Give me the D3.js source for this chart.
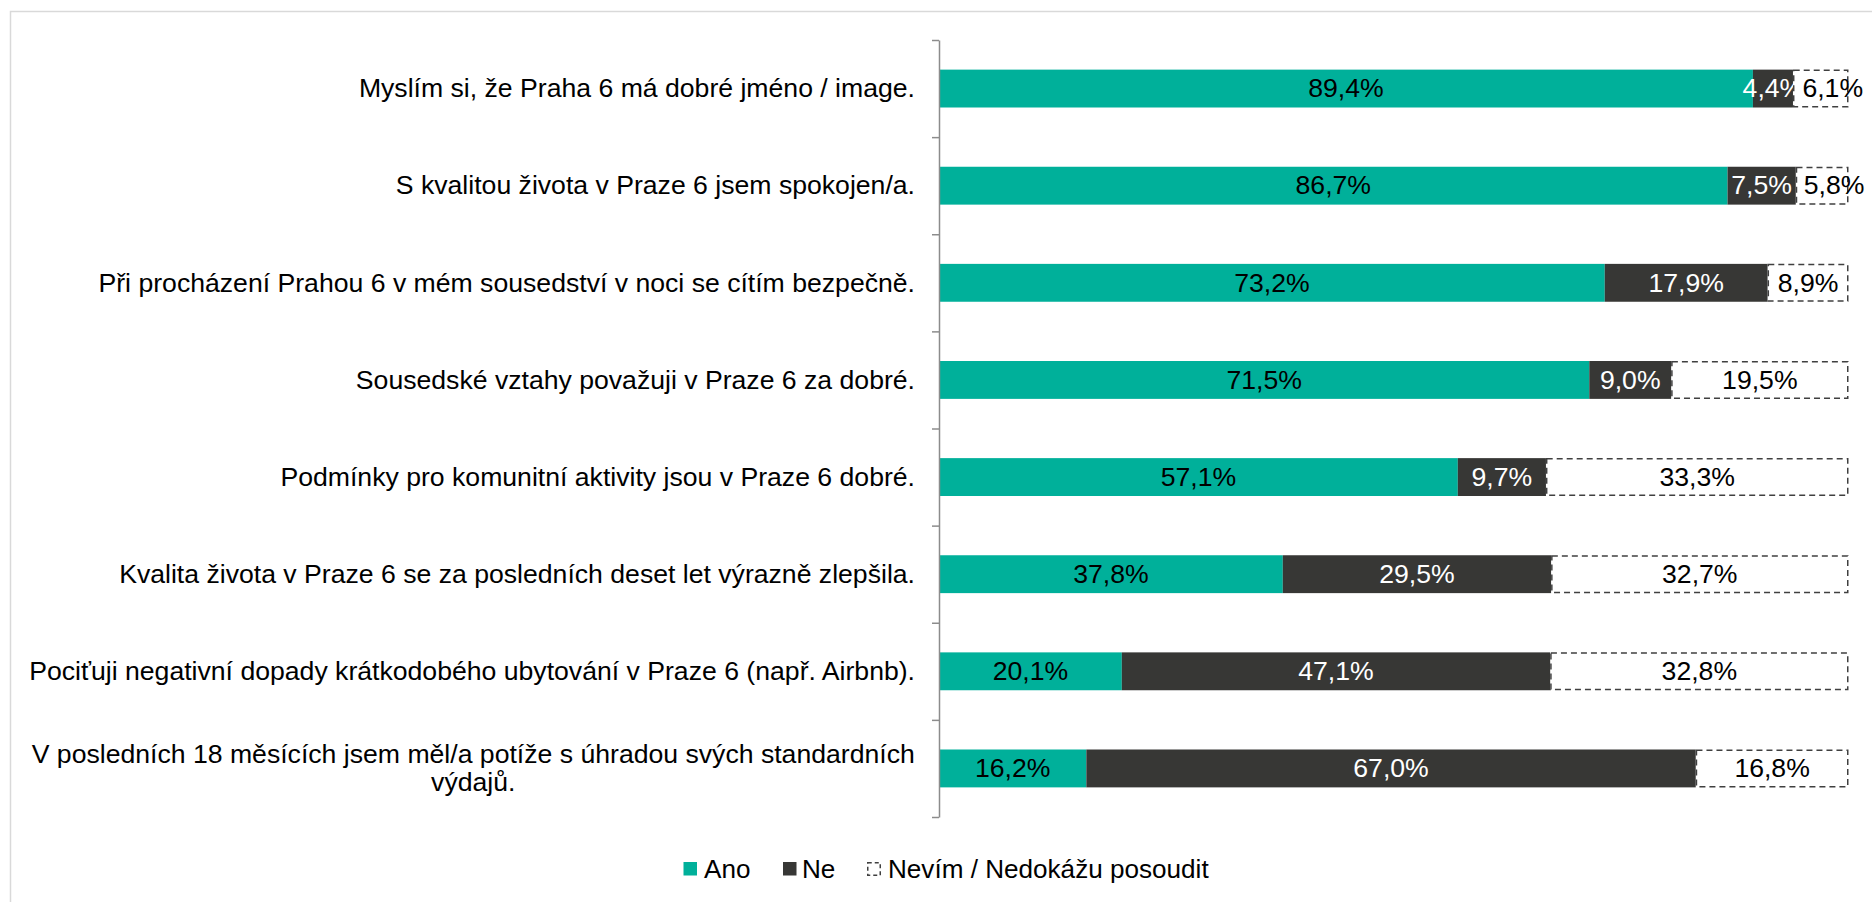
<!DOCTYPE html>
<html><head><meta charset="utf-8">
<script src="https://cdn.jsdelivr.net/npm/d3@7"></script>
<style>
html,body{margin:0;padding:0;background:#fff;}
svg{display:block;}
text{font-family:"Liberation Sans",Arial,sans-serif;}
</style></head>
<body>
<svg id="chart" width="1872" height="902"></svg>
<script>
const categories = [
  "Myslím si, že Praha 6 má dobré jméno / image.",
  "S kvalitou života v Praze 6 jsem spokojen/a.",
  "Při procházení Prahou 6 v mém sousedství v noci se cítím bezpečně.",
  "Sousedské vztahy považuji v Praze 6 za dobré.",
  "Podmínky pro komunitní aktivity jsou v Praze 6 dobré.",
  "Kvalita života v Praze 6 se za posledních deset let výrazně zlepšila.",
  "Pociťuji negativní dopady krátkodobého ubytování v Praze 6 (např. Airbnb).",
  "V posledních 18 měsících jsem měl/a potíže s úhradou svých standardních výdajů."
];
const categoryLines = [
  ["Myslím si, že Praha 6 má dobré jméno / image."],
  ["S kvalitou života v Praze 6 jsem spokojen/a."],
  ["Při procházení Prahou 6 v mém sousedství v noci se cítím bezpečně."],
  ["Sousedské vztahy považuji v Praze 6 za dobré."],
  ["Podmínky pro komunitní aktivity jsou v Praze 6 dobré."],
  ["Kvalita života v Praze 6 se za posledních deset let výrazně zlepšila."],
  ["Pociťuji negativní dopady krátkodobého ubytování v Praze 6 (např. Airbnb)."],
  ["V posledních 18 měsících jsem měl/a potíže s úhradou svých standardních", "výdajů."]
];
const seriesNames = ["Ano", "Ne", "Nevím / Nedokážu posoudit"];
const ano   = [89.4, 86.7, 73.2, 71.5, 57.1, 37.8, 20.1, 16.2];
const ne    = [4.4, 7.5, 17.9, 9.0, 9.7, 29.5, 47.1, 67.0];
const nevim = [6.1, 5.8, 8.9, 19.5, 33.3, 32.7, 32.8, 16.8];

const FS = 25, SX = 1.065, LSX = 1.045;
const teal = "#00b09a", dark = "#373735";

const rows = categories.map((c, i) => ({cat: c, "Ano": ano[i], "Ne": ne[i], "Nevím / Nedokážu posoudit": nevim[i]}));
const stack = d3.stack().keys(seriesNames).offset(d3.stackOffsetExpand)(rows);

const svg = d3.select("#chart");
svg.append("rect").attr("x", 10.5).attr("y", 11.5).attr("width", 2000).attr("height", 1000)
  .attr("fill", "none").attr("stroke", "#d9d9d9").attr("stroke-width", 1.5);

const x = d3.scaleLinear().domain([0, 1]).range([939, 1848.5]);
const y = d3.scaleBand().domain(categories).range([40, 817]).paddingInner(0.61).paddingOuter(0.305);
const yEdge = d3.scaleLinear().domain([0, categories.length]).range([40, 817]);

const loc = d3.formatLocale({decimal: ",", thousands: " ", grouping: [3], currency: ["", ""]});
const fmt = loc.format(".1f");

const fills = [teal, dark, "#ffffff"];
const labelCol = ["#000", "#fff", "#000"];

stack.forEach((s, si) => {
  const g = svg.append("g");
  s.forEach((d, i) => {
    const x0 = x(d[0]), x1 = x(d[1]);
    const r = g.append("rect")
      .attr("x", x0).attr("y", y(categories[i]))
      .attr("width", x1 - x0).attr("height", y.bandwidth())
      .attr("fill", fills[si]);
    if (si === 2) {
      r.attr("x", x0 + 0.75).attr("y", y(categories[i]) + 0.75)
       .attr("width", x1 - x0 - 1.5).attr("height", y.bandwidth() - 1.5)
       .attr("stroke", "#404040").attr("stroke-width", 1.5).attr("stroke-dasharray", "6,4");
    }
  });
  s.forEach((d, i) => {
    const v = [ano, ne, nevim][si][i];
    const segW = x(d[1]) - x(d[0]);
    const cx = (x(d[0]) + x(d[1])) / 2, cy = y(categories[i]) + y.bandwidth() / 2;
    const t = g.append("text")
      .attr("text-anchor", "middle").attr("dy", "0.35em")
      .attr("font-size", FS).attr("fill", labelCol[si])
      .text(fmt(v) + "%");
    const tw = t.node().getComputedTextLength() * SX;
    const shift = (si === 2 && tw > segW) ? 12 : 0;
    t.attr("transform", `translate(${cx + shift},${cy}) scale(${SX},1)`);
  });
});

// axis
const axis = d3.axisLeft(yEdge).tickValues(d3.range(categories.length + 1)).tickFormat("").tickSize(7).tickSizeOuter(0);
const ag = svg.append("g").attr("transform", "translate(939,0)").call(axis);
ag.selectAll("path,line").attr("stroke", "#8c8c8c").attr("stroke-width", 1.5);

// category labels
const LX = 915;
categoryLines.forEach((lines, i) => {
  const cy = y(categories[i]) + y.bandwidth() / 2;
  const g = svg.append("g");
  const lh = 28.5;
  const t0 = g.append("text").attr("font-size", FS).text(lines[0]);
  const w0 = t0.node().getComputedTextLength() * SX;
  t0.remove();
  const cxBlock = LX - w0 / 2;
  lines.forEach((ln, k) => {
    const ly = cy + (k - (lines.length - 1) / 2) * lh;
    g.append("text")
      .attr("transform", `translate(${lines.length > 1 ? cxBlock : LX},${ly}) scale(${SX},1)`)
      .attr("text-anchor", lines.length > 1 ? "middle" : "end")
      .attr("dy", "0.35em").attr("font-size", FS).attr("fill", "#000")
      .text(ln);
  });
});

// legend
const legend = [
  {name: seriesNames[0], sx: 683.5, tx: 704},
  {name: seriesNames[1], sx: 783, tx: 802},
  {name: seriesNames[2], sx: 867, tx: 888}
];
const ly = 869;
legend.forEach((l, i) => {
  if (i < 2) {
    svg.append("rect").attr("x", l.sx).attr("y", ly - 7).attr("width", 13.5).attr("height", 13.5).attr("fill", fills[i]);
  } else {
    svg.append("rect").attr("x", l.sx + 0.75).attr("y", ly - 6.25).attr("width", 12.5).attr("height", 12.5)
      .attr("fill", "#fff").attr("stroke", "#404040").attr("stroke-width", 1.5).attr("stroke-dasharray", "4,3");
  }
  svg.append("text").attr("transform", `translate(${l.tx},${ly}) scale(${LSX},1)`)
    .attr("dy", "0.35em").attr("font-size", FS).attr("fill", "#000").text(l.name);
});
</script>
</body></html>
